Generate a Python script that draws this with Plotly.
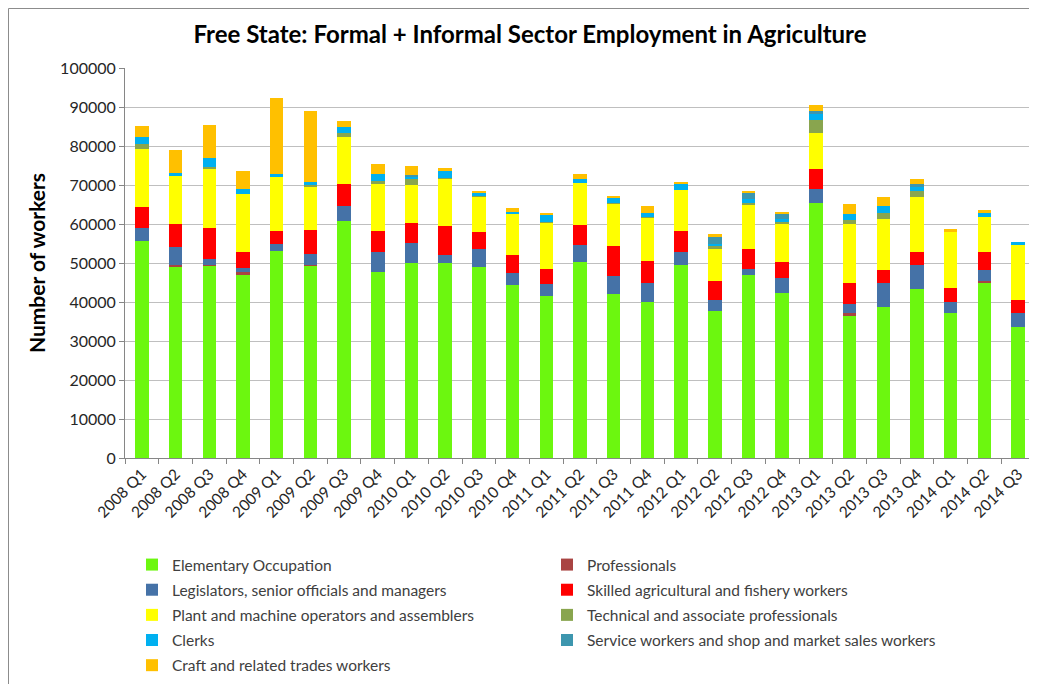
import plotly.graph_objects as go

quarters = ["2008 Q1", "2008 Q2", "2008 Q3", "2008 Q4", "2009 Q1", "2009 Q2", "2009 Q3", "2009 Q4",
            "2010 Q1", "2010 Q2", "2010 Q3", "2010 Q4", "2011 Q1", "2011 Q2", "2011 Q3", "2011 Q4",
            "2012 Q1", "2012 Q2", "2012 Q3", "2012 Q4", "2013 Q1", "2013 Q2", "2013 Q3", "2013 Q4",
            "2014 Q1", "2014 Q2", "2014 Q3"]

elementary = [55700, 49200, 49400, 47000, 53200, 49400, 60800, 47600, 49900, 50100, 49000, 44300, 41600, 50300,
              42000, 39900, 49600, 37600, 46900, 42400, 65400, 36600, 38700, 43400, 37100, 44800, 33600]
professionals = [0, 200, 200, 700, 0, 200, 0, 0, 0, 0, 0, 0, 0, 0,
                 0, 0, 0, 0, 0, 0, 0, 500, 0, 0, 0, 700, 0]
legislators = [3400, 4700, 1300, 1000, 1800, 2600, 3800, 5200, 5200, 2000, 4600, 3100, 3000, 4200,
               4700, 4900, 3100, 2800, 1600, 3800, 3700, 2500, 6100, 6000, 2800, 2600, 3600]
skilled = [5300, 6000, 8000, 4200, 3200, 6200, 5600, 5300, 5200, 7500, 4400, 4700, 3900, 5300,
           7600, 5800, 5400, 4900, 5100, 4000, 5100, 5300, 3400, 3300, 3700, 4600, 3300]
plant = [14900, 12200, 15300, 14900, 14000, 11200, 12200, 12200, 9800, 12000, 9000, 10500, 11900, 10600,
         10900, 11000, 10500, 8400, 11400, 9700, 9200, 15200, 13200, 14300, 14400, 9000, 14300]
technical = [1300, 0, 400, 0, 0, 300, 1000, 700, 1600, 300, 200, 0, 200, 0,
             200, 300, 0, 800, 400, 600, 3200, 1000, 1300, 1400, 0, 0, 0]
clerks = [1800, 800, 2200, 1300, 500, 800, 1400, 1900, 400, 1700, 900, 600, 1600, 1100,
          1400, 900, 1700, 300, 1100, 800, 1500, 1500, 2000, 1000, 0, 1200, 500]
service = [0, 0, 0, 0, 0, 0, 0, 0, 400, 0, 0, 0, 0, 0,
           0, 0, 0, 1800, 1700, 1400, 800, 0, 0, 900, 0, 0, 0]
craft = [2700, 5800, 8500, 4500, 19600, 18300, 1600, 2400, 2500, 700, 200, 1000, 700, 1400,
         400, 1800, 400, 800, 300, 200, 1500, 2500, 2300, 1300, 600, 700, 0]

series_names = ["Elementary Occupation", "Professionals",
                "Legislators, senior officials and managers", "Skilled agricultural and fishery workers",
                "Plant and machine operators and assemblers", "Technical and associate professionals",
                "Clerks", "Service workers and shop and market sales workers",
                "Craft and related trades workers"]
series_values = [elementary, professionals, legislators, skilled, plant, technical, clerks, service, craft]
series_colors = ["#6CF70F", "#A94442", "#4572A7", "#FF0000", "#FFFF00", "#89A54E", "#00B0F0", "#3D96AE", "#FFC000"]
legend_column = ["legend", "legend2", "legend", "legend2", "legend", "legend2", "legend", "legend2", "legend"]

FONT = "Lato, 'Open Sans', sans-serif"

fig = go.Figure()
for i, (name, vals, col, lg) in enumerate(zip(series_names, series_values, series_colors, legend_column)):
    fig.add_trace(go.Bar(x=quarters, y=vals, name=name, legend=lg, legendgroup=f"g{i}",
                         marker=dict(color=col, line=dict(width=0))))

# page body has an 8px margin, so figure coords = screen coords - 8
OFF = 8
W, H = 1037 - OFF, 684 - OFF
L, R, T, B = 125 - OFF, 1035 - OFF, 68 - OFF, 458 - OFF

def px(x):
    return (x - OFF - L) / (R - L)

def py(y):
    return (B - (y - OFF)) / (B - T)

def cy(y):
    return 1 - (y - OFF) / H

legend_font = dict(size=15.5, color="#404040", family=FONT)

fig.update_layout(
    width=W, height=H,
    barmode="stack", bargap=0.6,
    plot_bgcolor="white", paper_bgcolor="white",
    margin=dict(l=L, r=W - R, t=T, b=H - B),
    font=dict(family=FONT, color="#404040"),
    title=dict(text="<b>Free State: Formal + Informal Sector Employment in Agriculture</b>",
               x=(530 - OFF) / W, xanchor="center", y=cy(35), yanchor="middle",
               font=dict(size=24, color="black", family=FONT)),
    xaxis=dict(type="category", tickangle=-45, tickson="boundaries", ticks="outside", ticklen=5,
               tickcolor="#868686", showline=True, linecolor="#868686", linewidth=1,
               tickfont=dict(size=15.5, color="#262626"), showgrid=False),
    yaxis=dict(range=[0, 100000], dtick=10000, ticks="outside", ticklen=5, tickcolor="#868686",
               showline=True, linecolor="#868686", gridcolor="#BFBFBF", gridwidth=1,
               tickfont=dict(size=16, color="#262626"), tickformat="d",
               title=dict(text="<b>Number of workers</b>", font=dict(size=21, color="black"), standoff=8)),
    legend=dict(orientation="v", x=px(132), y=cy(548), yref="container", xanchor="left", yanchor="top",
                tracegroupgap=2, traceorder="grouped", font=legend_font, bgcolor="rgba(0,0,0,0)"),
    legend2=dict(orientation="v", x=px(547), y=cy(548), yref="container", xanchor="left", yanchor="top",
                 tracegroupgap=2, traceorder="grouped", font=legend_font, bgcolor="rgba(0,0,0,0)"),
    showlegend=True,
)

fig.add_shape(type="line", xref="paper", yref="paper",
              x0=px(OFF + 0.5), x1=px(OFF + 0.5), y0=py(700), y1=py(OFF + 0.5),
              line=dict(color="#8C8C8C", width=1), layer="below")
fig.add_shape(type="line", xref="paper", yref="paper",
              x0=px(OFF + 0.5), x1=px(1040), y0=py(OFF + 0.5), y1=py(OFF + 0.5),
              line=dict(color="#8C8C8C", width=1), layer="below")

fig.write_html("out.html", config={"displayModeBar": False})
